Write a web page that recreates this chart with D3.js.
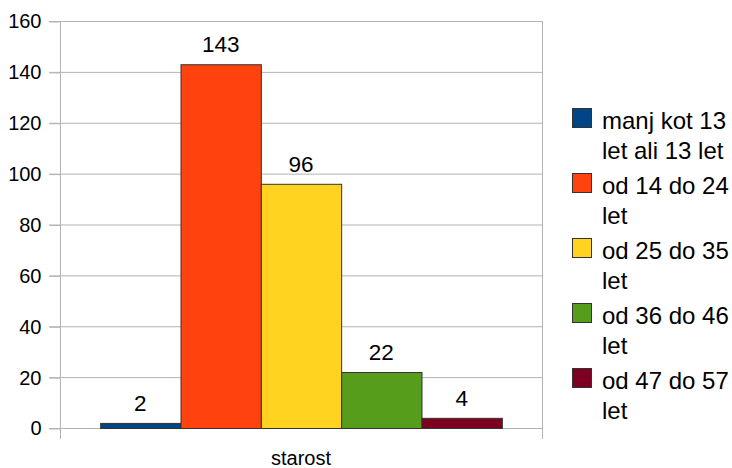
<!DOCTYPE html>
<html>
<head>
<meta charset="utf-8">
<script src="https://cdn.jsdelivr.net/npm/d3@7"></script>
<style>
  body { margin: 0; background: #fff; }
  svg { font-family: "Liberation Sans", Arial, sans-serif; }
</style>
</head>
<body>
<svg width="732" height="468"></svg>
<script>
var categories = ["starost"];
var seriesNames = ["manj kot 13 let ali 13 let", "od 14 do 24 let", "od 25 do 35 let", "od 36 do 46 let", "od 47 do 57 let"];
var seriesValues = [2, 143, 96, 22, 4];
var seriesColors = ["#004586", "#ff420e", "#ffd320", "#579d1c", "#7e0021"];
var yTicks = [0, 20, 40, 60, 80, 100, 120, 140, 160];

var svg = d3.select("svg");
var plotLeft = 60, plotRight = 542, plotTop = 21, plotBottom = 428;

var x0 = d3.scaleBand().domain(categories).range([plotLeft, plotRight]);
var x1 = d3.scaleBand().domain(seriesNames).range([0, x0.bandwidth()])
    .paddingInner(0).paddingOuter(0.5);
var y = d3.scaleLinear().domain([0, 160]).range([plotBottom, plotTop]);

// grid lines
svg.append("g").selectAll("line")
  .data(yTicks)
  .enter().append("line")
    .attr("x1", plotLeft - 11).attr("x2", plotRight)
    .attr("y1", function(d) { return y(d) + 0.5; })
    .attr("y2", function(d) { return y(d) + 0.5; })
    .attr("stroke", "#b3b3b3");

// y axis
var yAxis = svg.append("g")
  .attr("transform", "translate(" + (plotLeft + 0.5) + ",0.5)")
  .call(d3.axisLeft(y).tickValues(yTicks).tickSize(11).tickPadding(8));
yAxis.select(".domain").remove();
yAxis.selectAll(".tick line").attr("stroke", "#b3b3b3");
yAxis.selectAll(".tick text")
  .attr("fill", "#000")
  .style("font-size", "20px")
  .style("font-family", "Liberation Sans, Arial, sans-serif");

// vertical frame lines + category ticks
svg.append("g").selectAll("line")
  .data([plotLeft, plotRight])
  .enter().append("line")
    .attr("x1", function(d) { return d + 0.5; })
    .attr("x2", function(d) { return d + 0.5; })
    .attr("y1", plotTop).attr("y2", plotBottom + 11)
    .attr("stroke", "#b3b3b3");

// bars
var cat = svg.append("g").selectAll("g")
  .data(categories)
  .enter().append("g")
    .attr("transform", function(d) { return "translate(" + x0(d) + ",0)"; });

cat.selectAll("rect")
  .data(seriesNames.map(function(n, i) { return {name: n, value: seriesValues[i], color: seriesColors[i]}; }))
  .enter().append("rect")
    .attr("x", function(d) { return x1(d.name) + 0.5; })
    .attr("y", function(d) { return y(d.value) + 0.5; })
    .attr("width", x1.bandwidth())
    .attr("height", function(d) { return plotBottom - y(d.value); })
    .attr("fill", function(d) { return d.color; })
    .attr("stroke", "#333")
    .attr("stroke-width", 1);

cat.selectAll("text.val")
  .data(seriesNames.map(function(n, i) { return {name: n, value: seriesValues[i]}; }))
  .enter().append("text")
    .attr("class", "val")
    .attr("x", function(d) { return x1(d.name) + x1.bandwidth() / 2; })
    .attr("y", function(d) { return y(d.value) - 12; })
    .attr("text-anchor", "middle")
    .style("font-size", "22.5px")
    .text(function(d) { return d.value; });

// category label
svg.append("g").selectAll("text")
  .data(categories)
  .enter().append("text")
    .attr("x", function(d) { return x0(d) + x0.bandwidth() / 2; })
    .attr("y", 465)
    .attr("text-anchor", "middle")
    .style("font-size", "20px")
    .text(function(d) { return d; });

// legend
var legend = svg.append("g").attr("class", "legend");
var item = legend.selectAll("g")
  .data(seriesNames)
  .enter().append("g")
    .attr("transform", function(d, i) { return "translate(572," + (108 + i * 65) + ")"; });

item.append("rect")
  .attr("x", 0.5).attr("y", 0.5)
  .attr("width", 19).attr("height", 19)
  .attr("fill", function(d, i) { return seriesColors[i]; })
  .attr("stroke", "#333");

item.append("text")
  .attr("x", 30)
  .attr("y", 21)
  .style("font-size", "24px")
  .each(function(d) {
    var t = d3.select(this);
    var words = d.split(" "), line = [];
    var tspan = t.append("tspan").attr("x", 30).attr("dy", 0);
    words.forEach(function(w) {
      line.push(w);
      tspan.text(line.join(" "));
      if (tspan.node().getComputedTextLength() > 130 && line.length > 1) {
        line.pop();
        tspan.text(line.join(" "));
        line = [w];
        tspan = t.append("tspan").attr("x", 30).attr("dy", 30).text(w);
      }
    });
  });
</script>
</body>
</html>
